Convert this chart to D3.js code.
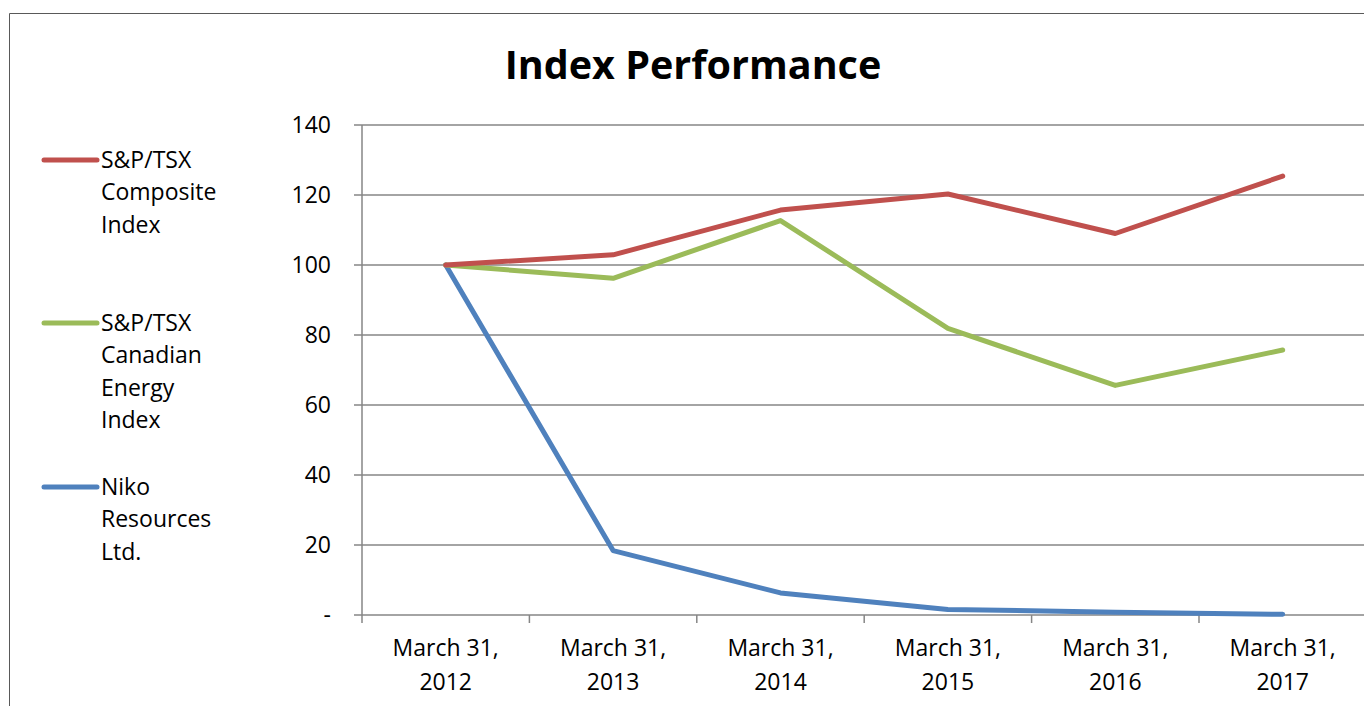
<!DOCTYPE html>
<html>
<head>
<meta charset="utf-8">
<script src="https://cdn.jsdelivr.net/npm/d3@7"></script>
<style>
  body { margin: 0; background: #fff; }
  text { font-family: "Open Sans", "Liberation Sans", sans-serif; fill: #000; }
</style>
</head>
<body>
<div class="canvas"></div>
<script>
// Data
const categories = ["March 31, 2012", "March 31, 2013", "March 31, 2014", "March 31, 2015", "March 31, 2016", "March 31, 2017"];
const composite = [100, 102.9, 115.7, 120.3, 109.0, 125.4];
const energy = [100, 96.2, 112.7, 81.9, 65.6, 75.7];
const niko = [100, 18.4, 6.3, 1.6, 0.8, 0.2];
const series_names = [["S&P/TSX", "Composite", "Index"], ["S&P/TSX", "Canadian", "Energy", "Index"], ["Niko", "Resources", "Ltd."]];
const y_ticks = [0, 20, 40, 60, 80, 100, 120, 140];

// Settings
const width = 1364;
const height = 706;
const colors = ["#C0504D", "#9BBB59", "#4F81BD"];
const grid_color = "#868686";
const font_size = 23;
const line_width = 5;

const svg = d3.select(".canvas").append("svg")
    .attr("width", width)
    .attr("height", height);

// chart border
svg.append("path")
    .attr("d", "M9.5," + height + " L9.5,13.5 L" + width + ",13.5")
    .attr("fill", "none")
    .attr("stroke", "#595959")
    .attr("stroke-width", 1);

// title
svg.append("text")
    .attr("x", 693)
    .attr("y", 79)
    .attr("text-anchor", "middle")
    .attr("font-size", "39.5px")
    .attr("font-weight", "bold")
    .text("Index Performance");

// scales
const x = d3.scaleBand().domain(categories).range([362, 362 + 6 * 167.4]);
const y = d3.scaleLinear().domain([0, 140]).range([615, 125]);

// gridlines
svg.append("g")
    .selectAll("line")
    .data(y_ticks)
    .enter()
    .append("line")
    .attr("x1", 354)
    .attr("x2", width)
    .attr("y1", d => y(d))
    .attr("y2", d => y(d))
    .attr("stroke", grid_color)
    .attr("stroke-width", 1.5);

// y axis line
svg.append("line")
    .attr("x1", 362).attr("x2", 362)
    .attr("y1", y(140)).attr("y2", y(0))
    .attr("stroke", grid_color)
    .attr("stroke-width", 1.5);

// x ticks (band boundaries)
svg.append("g")
    .selectAll("line")
    .data(categories)
    .enter()
    .append("line")
    .attr("x1", d => x(d))
    .attr("x2", d => x(d))
    .attr("y1", y(0))
    .attr("y2", y(0) + 8)
    .attr("stroke", grid_color)
    .attr("stroke-width", 1.5);

// y labels
svg.append("g")
    .selectAll("text")
    .data(y_ticks)
    .enter()
    .append("text")
    .attr("x", 331)
    .attr("y", d => y(d))
    .attr("dy", "0.35em")
    .attr("text-anchor", "end")
    .attr("font-size", font_size + "px")
    .text(d => d == 0 ? "-" : d);

// x labels, two lines each
const xl = svg.append("g")
    .selectAll("text")
    .data(categories)
    .enter()
    .append("text")
    .attr("text-anchor", "middle")
    .attr("font-size", font_size + "px");
xl.append("tspan")
    .attr("x", d => x(d) + x.bandwidth() / 2)
    .attr("y", 656)
    .text(d => d.split(" ").slice(0, 2).join(" "));
xl.append("tspan")
    .attr("x", d => x(d) + x.bandwidth() / 2)
    .attr("y", 690)
    .text(d => d.split(" ")[2]);

// lines
const lineGen = d3.line()
    .x((d, i) => x(categories[i]) + x.bandwidth() / 2)
    .y(d => y(d));

[niko, energy, composite].forEach(function(values) {
    const idx = [composite, energy, niko].indexOf(values);
    svg.append("path")
        .attr("d", lineGen(values))
        .attr("fill", "none")
        .attr("stroke", colors[idx])
        .attr("stroke-width", line_width)
        .attr("stroke-linecap", "round")
        .attr("stroke-linejoin", "round");
});

// legend
const legend_y = [160, 323, 487];
const leg = svg.append("g")
    .selectAll("g")
    .data(series_names)
    .enter()
    .append("g")
    .attr("transform", (d, i) => "translate(0," + legend_y[i] + ")");
leg.append("line")
    .attr("x1", 44).attr("x2", 97)
    .attr("y1", 0).attr("y2", 0)
    .attr("stroke", (d, i) => colors[i])
    .attr("stroke-width", line_width)
    .attr("stroke-linecap", "round");
leg.selectAll("text")
    .data(d => d)
    .enter()
    .append("text")
    .attr("x", 101)
    .attr("y", (d, i) => i * 32.3)
    .attr("dy", "0.35em")
    .attr("font-size", font_size + "px")
    .text(d => d);
</script>
</body>
</html>
